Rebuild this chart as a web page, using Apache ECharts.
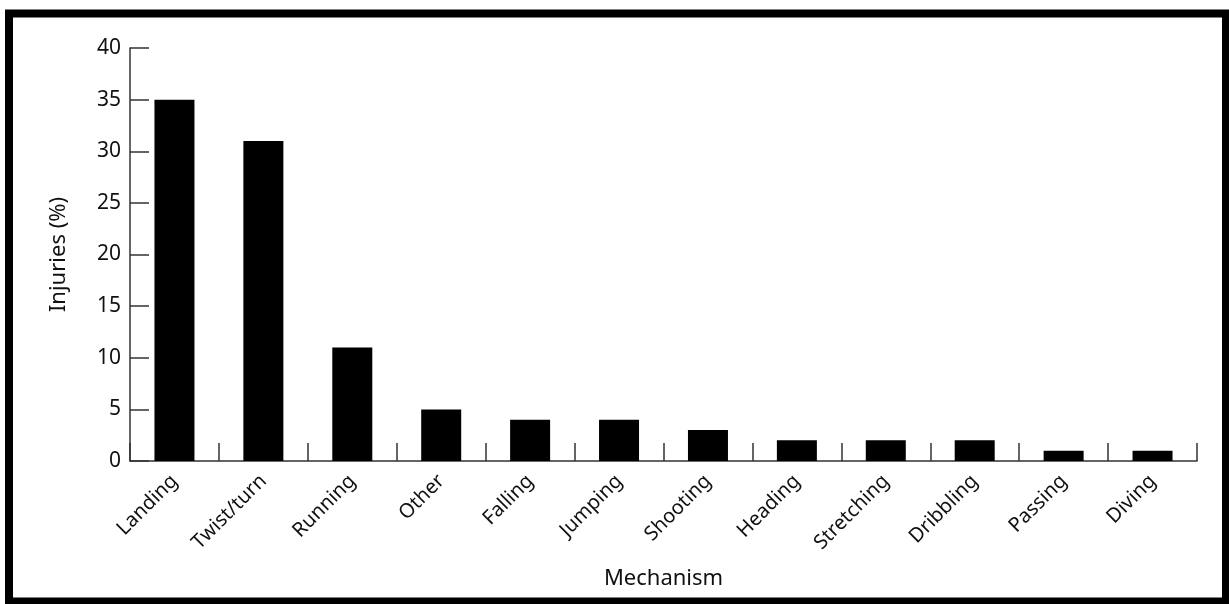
<!DOCTYPE html>
<html>
<head>
<meta charset="utf-8">
<script src="https://cdn.jsdelivr.net/npm/echarts@6/dist/echarts.min.js"></script>
<style>
html,body{margin:0;padding:0;background:#fff;}
#chart{width:1229px;height:604px;}
</style>
</head>
<body>
<div id="chart"></div>
<script>
var categories = ['Landing','Twist/turn','Running','Other','Falling','Jumping','Shooting','Heading','Stretching','Dribbling','Passing','Diving'];
var injuries = [35, 31, 11, 5, 4, 4, 3, 2, 2, 2, 1, 1];
var yTicks = [0, 5, 10, 15, 20, 25, 30, 35, 40];

var chart = echarts.init(document.getElementById('chart'));
var font = 'Noto Sans';
chart.setOption({
  animation: false,
  backgroundColor: '#fff',
  graphic: [{
    type: 'rect',
    shape: {x: 9, y: 13.5, width: 1217, height: 588},
    style: {fill: 'none', stroke: '#000', lineWidth: 8},
    silent: true
  }],
  grid: {left: 130, right: 32, top: 48, bottom: 143},
  xAxis: {
    type: 'category',
    data: categories,
    name: 'Mechanism',
    nameLocation: 'middle',
    nameGap: 107,
    nameTextStyle: {color: '#111', fontSize: 22, fontFamily: font},
    axisLine: {lineStyle: {color: '#333', width: 1.5}},
    axisTick: {show: true, inside: true, length: 18, interval: 0, alignWithLabel: false, lineStyle: {color: '#333', width: 1.5}},
    axisLabel: {rotate: 45, color: '#111', fontSize: 20, fontFamily: font, margin: 17, interval: 0, padding: [0, 0, 0, 0]}
  },
  yAxis: {
    type: 'value',
    min: yTicks[0],
    max: yTicks[yTicks.length - 1],
    interval: 5,
    name: 'Injuries (%)',
    nameLocation: 'middle',
    nameRotate: 90,
    nameGap: 60,
    nameTextStyle: {color: '#111', fontSize: 22, fontFamily: font},
    splitLine: {show: false},
    axisLine: {show: true, lineStyle: {color: '#333', width: 1.5}},
    axisTick: {show: true, inside: true, length: 19, lineStyle: {color: '#333', width: 1.5}},
    axisLabel: {color: '#111', fontSize: 21, fontFamily: font, margin: 9}
  },
  series: [{
    type: 'bar',
    data: injuries,
    barWidth: 40,
    itemStyle: {color: '#000'}
  }]
});
</script>
</body>
</html>
